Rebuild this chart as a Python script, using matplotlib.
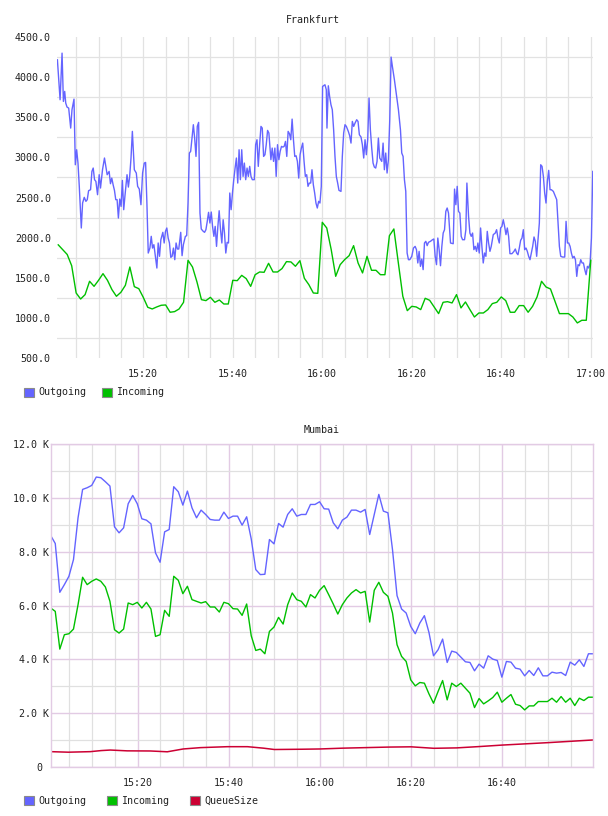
import numpy as np
import pandas as pd
import matplotlib
matplotlib.use("Agg")
import matplotlib.pyplot as plt
import matplotlib.dates as mdates
from matplotlib.ticker import MultipleLocator, FuncFormatter, FixedLocator
from matplotlib.patches import Patch

plt.rcParams['font.family'] = ['DejaVu Sans Mono', 'DejaVu Sans']
plt.rcParams['font.size'] = 7.2

# ---------------- data ----------------
BASE = "2000-01-01 15:00:00"

# Frankfurt, Outgoing: minutes after 15:00 and values
fra_out_t = [
    0.81, 1.41, 1.85, 2.15, 2.44, 2.67, 2.96, 3.33, 3.78, 4.07,
    4.52, 4.81, 5.11, 5.41, 5.70, 6.15, 6.44, 6.81, 7.18, 7.48,
    7.78, 8.22, 8.52, 8.81, 9.11, 9.41, 9.78, 10.15, 10.44, 10.89,
    11.33, 11.63, 11.93, 12.37, 12.67, 12.96, 13.26, 13.56, 13.85, 14.15,
    14.44, 14.74, 15.04, 15.33, 15.63, 15.93, 16.37, 16.67, 16.96, 17.26,
    17.56, 18.00, 18.44, 18.74, 19.11, 19.48, 19.85, 20.22, 20.52, 20.81,
    21.11, 21.48, 21.78, 22.07, 22.37, 22.74, 23.04, 23.33, 23.63, 23.93,
    24.37, 24.67, 24.96, 25.26, 25.56, 25.85, 26.15, 26.44, 26.74, 27.04,
    27.33, 27.63, 27.93, 28.37, 28.67, 28.96, 29.41, 29.70, 30.00, 30.30,
    30.59, 30.89, 31.19, 31.48, 31.78, 32.07, 32.37, 32.67, 32.96, 33.41,
    33.70, 34.00, 34.30, 34.59, 34.89, 35.19, 35.48, 35.78, 36.07, 36.37,
    36.67, 36.96, 37.26, 37.56, 37.85, 38.15, 38.44, 38.74, 39.04, 39.33,
    39.63, 39.93, 40.22, 40.52, 40.81, 41.11, 41.41, 41.70, 42.00, 42.30,
    42.59, 42.89, 43.19, 43.48, 43.78, 44.07, 44.37, 44.81, 45.11, 45.41,
    45.70, 46.00, 46.30, 46.59, 46.89, 47.19, 47.48, 47.78, 48.07, 48.52,
    48.81, 49.11, 49.41, 49.70, 50.00, 50.30, 50.59, 50.89, 51.19, 51.48,
    51.78, 52.07, 52.37, 52.67, 52.96, 53.26, 53.56, 53.85, 54.15, 54.44,
    54.74, 55.04, 55.33, 55.63, 55.93, 56.22, 56.52, 56.81, 57.11, 57.41,
    57.70, 58.00, 58.30, 58.59, 58.89, 59.19, 59.48, 59.78, 60.07, 60.60,
    60.90, 61.05, 61.35, 61.64, 61.94, 62.24, 62.54, 62.84, 63.14, 63.44,
    63.73, 64.18, 64.48, 64.78, 65.08, 65.38, 65.82, 66.12, 66.42, 66.72,
    67.02, 67.32, 67.69, 67.99, 68.29, 68.66, 68.96, 69.26, 69.56, 69.85,
    70.15, 70.45, 70.75, 71.05, 71.35, 71.64, 71.94, 72.24, 72.54, 72.84,
    73.29, 73.59, 73.88, 74.18, 74.48, 74.78, 75.08, 75.38, 75.67, 76.12,
    76.57, 77.02, 77.47, 77.76, 78.06, 78.36, 78.66, 78.96, 79.26, 79.56,
    80.00, 80.38, 80.75, 81.05, 81.35, 81.64, 81.94, 82.24, 82.54, 82.84,
    83.14, 83.44, 83.73, 84.18, 84.63, 84.93, 85.23, 85.53, 85.82, 86.12,
    86.42, 86.72, 87.02, 87.32, 87.61, 87.91, 88.21, 88.66, 89.26, 89.56,
    89.85, 90.15, 90.45, 90.75, 91.05, 91.35, 91.79, 92.09, 92.32, 92.69,
    92.99, 93.29, 93.59, 93.88, 94.18, 94.48, 94.78, 95.08, 95.38, 95.67,
    95.97, 96.27, 96.57, 96.87, 97.17, 97.47, 97.76, 98.21, 98.66, 98.96,
    99.26, 99.56, 99.85, 100.15, 100.45, 100.75, 101.05, 101.35, 101.64, 101.94,
    102.39, 102.84, 103.14, 103.44, 103.73, 104.03, 104.33, 104.63, 104.93, 105.23,
    105.53, 105.82, 106.12, 106.42, 106.72, 107.02, 107.32, 107.61, 107.91, 108.21,
    108.51, 108.81, 109.11, 109.41, 109.70, 110.00, 110.30, 110.60, 110.90, 111.20,
    111.64, 112.09, 112.39, 112.69, 112.99, 113.29, 113.73, 114.18, 114.48, 114.78,
    115.08, 115.38, 115.67, 115.97, 116.27, 116.57, 116.87, 117.16, 117.46, 117.76,
    118.06, 118.36, 118.66, 118.96, 119.25, 119.55, 119.85, 120.15, 120.45,
]
fra_out_v = [
    4216, 3718, 4299, 3697, 3822, 3677, 3627, 3614, 3365, 3594,
    3726, 2908, 3095, 2929, 2639, 2120, 2431, 2502, 2452, 2473,
    2585, 2597, 2825, 2867, 2722, 2701, 2535, 2784, 2618, 2846,
    2992, 2888, 2784, 2825, 2672, 2742, 2659, 2589, 2473, 2473,
    2244, 2481, 2389, 2713, 2348, 2535, 2784, 2630, 2763, 2992,
    3324, 2846, 2805, 2639, 2605, 2410, 2805, 2929, 2937, 2431,
    1808, 1870, 2016, 1870, 1912, 1746, 1621, 1933, 1767, 1974,
    2066, 1933, 2078, 2120, 1995, 1933, 1754, 1767, 1870, 1725,
    1933, 1858, 1858, 2066, 1775, 1912, 2016, 2024, 2431, 3054,
    3075, 3241, 3407, 3241, 3012, 3386, 3436, 2306, 2107, 2078,
    2066, 2099, 2203, 2315, 2182, 2319, 2140, 2016, 2140, 1891,
    2140, 2335, 2099, 1933, 2223, 2057, 1808, 1941, 1933, 2556,
    2348, 2556, 2722, 2867, 2992, 2680, 3095, 2722, 3095, 2763,
    2929, 2722, 2867, 2763, 2888, 2763, 2722, 2722, 3158, 3220,
    2888, 3158, 3386, 3365, 3012, 3033, 3158, 3336, 3303, 2971,
    3116, 2950, 3116, 2763, 3158, 2971, 3075, 3137, 3128, 3137,
    3199, 3012, 3324, 3295, 3220, 3477, 3220, 3012, 3020, 2950,
    2742, 3033, 3116, 3178, 2950, 2763, 2784, 2639, 2680, 2680,
    2846, 2659, 2556, 2431, 2369, 2452, 2431, 2639, 3884, 3905,
    3843, 3365, 3892, 3760, 3656, 3594, 3344, 3012, 2763, 2680,
    2589, 2576, 3012, 3303, 3407, 3386, 3324, 3270, 3178, 3448,
    3386, 3427, 3469, 3448, 3282, 3253, 3158, 2992, 3220, 3033,
    3220, 3739, 3344, 3116, 2929, 2879, 2867, 2950, 3241, 2992,
    2950, 3178, 2846, 3054, 2805, 2971, 3469, 4250, 4133, 3967,
    3780, 3594, 3344, 3054, 3012, 2722, 2576, 1808, 1725, 1725,
    1767, 1870, 1891, 1850, 1684, 1829, 1642, 1733, 1601, 1933,
    1954, 1900, 1941, 1954, 1974, 1983, 1767, 1663, 1995, 1850,
    1650, 1891, 2057, 2099, 2327, 2369, 2306, 1933, 1924, 2605,
    2410, 2639, 2327, 2306, 2016, 1974, 1974, 2099, 2680, 2265,
    2057, 2016, 2057, 1850, 1891, 1829, 1933, 1808, 2120, 1891,
    1684, 1808, 1767, 2078, 1933, 1829, 1891, 2037, 2057, 2099,
    1995, 1933, 2120, 2140, 2223, 2140, 2037, 2120, 2016, 1800,
    1800, 1829, 1858, 1808, 1787, 1870, 1966, 1995, 2099, 1850,
    1870, 1829, 1767, 1725, 1808, 1891, 2008, 1954, 1767, 1974,
    2182, 2908, 2888, 2763, 2556, 2431, 2701, 2838, 2597, 2597,
    2576, 2514, 2473, 2182, 1891, 1767, 1758, 1758, 2203, 1933,
    1933, 1891, 1808, 1746, 1767, 1725, 1517, 1663, 1650, 1725,
    1684, 1684, 1601, 1538, 1642, 1621, 1684, 1995, 2825,
]

# Frankfurt, Incoming: one sample per minute starting 15:01
fra_in_start = 1.0
fra_in_v = [
    1910, 1850, 1790, 1650, 1310, 1235, 1290, 1456, 1393, 1468,
    1551, 1468, 1352, 1269, 1319, 1406, 1634, 1389, 1364, 1256,
    1132, 1111, 1136, 1157, 1161, 1070, 1078, 1111, 1194, 1717,
    1634, 1447, 1227, 1215, 1256, 1194, 1223, 1173, 1173, 1468,
    1464, 1530, 1489, 1393, 1538, 1572, 1568, 1680, 1572, 1572,
    1614, 1701, 1697, 1643, 1713, 1493, 1414, 1310, 1306, 2191,
    2120, 1850, 1518, 1663, 1726, 1775, 1900, 1684, 1560, 1767,
    1593, 1593, 1538, 1538, 2024, 2108, 1684, 1269, 1090, 1144,
    1136, 1103, 1244, 1219, 1136, 1053, 1194, 1202, 1186, 1290,
    1124, 1198, 1103, 1011, 1061, 1061, 1103, 1178, 1194, 1261,
    1215, 1070, 1070, 1153, 1153, 1070, 1144, 1261, 1456, 1385,
    1360, 1207, 1053, 1053, 1053, 1011, 937, 970, 970, 1717,
]

# Mumbai: one sample per minute starting 15:00:55
mum_start = 0.92
mum_out_v = [
    8605, 8307, 6491, 6777, 7088, 7710, 9264, 10321, 10383, 10470,
    10781, 10756, 10607, 10445, 8928, 8705, 8891, 9786, 10097, 9786,
    9227, 9177, 9040, 7958, 7610, 8742, 8829, 10421, 10234, 9737,
    10259, 9637, 9264, 9550, 9388, 9202, 9177, 9177, 9475, 9239,
    9326, 9326, 8991, 9301, 8481, 7337, 7150, 7163, 8456, 8294,
    9053, 8916, 9388, 9600, 9326, 9388, 9388, 9761, 9761, 9861,
    9600, 9587, 9078, 8854, 9177, 9289, 9550, 9550, 9475, 9575,
    8642, 9388, 10135, 9513, 9451, 8083, 6367, 5869, 5720, 5223,
    4949, 5347, 5621, 4999, 4128, 4352, 4750, 3880, 4302, 4253,
    4079, 3905, 3880, 3569, 3818, 3668, 4128, 4004, 3954, 3333,
    3917, 3892, 3668, 3631, 3382, 3581, 3395, 3681, 3382, 3382,
    3519, 3482, 3507, 3395, 3892, 3780, 3979, 3731, 4203, 4203,
]
mum_in_v = [
    5907, 5782, 4377, 4912, 4949, 5123, 6031, 7051, 6777, 6901,
    6988, 6901, 6690, 6155, 5098, 4974, 5123, 6093, 6031, 6118,
    5907, 6118, 5869, 4850, 4912, 5820, 5596, 7088, 6939, 6441,
    6715, 6218, 6155, 6093, 6143, 5944, 5944, 5757, 6118, 6068,
    5882, 5869, 5633, 6056, 4875, 4327, 4377, 4203, 5036, 5198,
    5558, 5310, 6031, 6466, 6218, 6155, 5944, 6404, 6280, 6566,
    6740, 6404, 6056, 5683, 6031, 6280, 6466, 6591, 6466, 6528,
    5384, 6566, 6864, 6491, 6342, 5720, 4539, 4104, 3917, 3233,
    3009, 3134, 3109, 2711, 2363, 2798, 3208, 2487, 3109, 2984,
    3109, 2922, 2736, 2201, 2537, 2338, 2450, 2574, 2773, 2400,
    2549, 2686, 2325, 2276, 2114, 2263, 2263, 2425, 2425, 2425,
    2549, 2400, 2611, 2400, 2549, 2276, 2549, 2462, 2587, 2587,
]
mum_q_t = [0.92, 4.8, 9.6, 12.0, 14.0, 17.7, 22.8, 26.5, 30.0, 33.8,
           39.7, 44.1, 47.6, 50.0, 56.0, 60.0, 65.0, 70.0, 75.0, 80.0,
           85.0, 90.0, 95.0, 100.0, 105.0, 110.0, 115.0, 119.92]
mum_q_v = [560, 540, 560, 600, 620, 590, 585, 555, 660, 710,
           745, 745, 690, 640, 650, 660, 690, 710, 730, 740,
           685, 700, 750, 805, 850, 895, 945, 995]

series_names = ["Outgoing", "Incoming", "QueueSize"]
series_colors = ["#6464ff", "#00c000", "#cc0033"]

# ---------------- helpers ----------------
base = pd.Timestamp(BASE)


def to_dates(minutes):
    return (base + pd.to_timedelta(np.asarray(minutes, dtype=float), unit="m")).to_numpy()


def per_minute(start, n):
    return to_dates(start + np.arange(n))


W, H = 608, 816
fig = plt.figure(figsize=(W / 100, H / 100), dpi=100)
TXT = "#222222"

# ---------------- Frankfurt ----------------
ax1 = fig.add_axes([57 / W, 1 - 358 / H, (593 - 57) / W, (358 - 37) / H])
ax1.plot(to_dates(fra_out_t), fra_out_v, color=series_colors[0], lw=1.0)
ax1.plot(per_minute(fra_in_start, len(fra_in_v)), fra_in_v, color=series_colors[1], lw=1.0)
ax1.set_xlim(to_dates([0.72])[0], to_dates([120.5])[0])
ax1.set_ylim(500, 4500)
ax1.yaxis.set_major_locator(MultipleLocator(500))
ax1.yaxis.set_minor_locator(FixedLocator(np.arange(750, 4500, 500)))
ax1.yaxis.set_major_formatter(FuncFormatter(lambda v, p: f"{v:.1f}"))
ax1.xaxis.set_major_locator(mdates.MinuteLocator(byminute=[0, 20, 40]))
ax1.xaxis.set_minor_locator(mdates.MinuteLocator(byminute=range(0, 60, 5)))
ax1.xaxis.set_major_formatter(mdates.DateFormatter("%H:%M"))
for s in ax1.spines.values():
    s.set_visible(False)
ax1.set_axisbelow(True)
ax1.grid(True, which="minor", axis="both", color="#e2e2e2", lw=0.9)
ax1.grid(True, which="major", axis="x", color="#e2e2e2", lw=0.9)
ax1.tick_params(which="both", length=0, colors=TXT)
ax1.tick_params(axis="y", pad=4.5)
ax1.tick_params(axis="x", pad=8)
fig.text(313 / W, 1 - 20 / H, "Frankfurt", ha="center", va="center", color=TXT)

# ---------------- Mumbai ----------------
ax2 = fig.add_axes([50.7 / W, 1 - 766.7 / H, (593 - 50.7) / W, (766.7 - 444.3) / H])
mum_t = per_minute(mum_start, len(mum_out_v))
ax2.plot(mum_t, mum_out_v, color=series_colors[0], lw=1.0)
ax2.plot(mum_t, mum_in_v, color=series_colors[1], lw=1.0)
ax2.plot(to_dates(mum_q_t), mum_q_v, color=series_colors[2], lw=1.1)
ax2.set_xlim(mum_t[0], mum_t[-1])
ax2.set_ylim(0, 12000)
ax2.yaxis.set_major_locator(MultipleLocator(2000))
ax2.yaxis.set_minor_locator(MultipleLocator(1000))
ax2.yaxis.set_major_formatter(FuncFormatter(lambda v, p: "0 " if v == 0 else f"{v / 1000:.1f} K"))
ax2.xaxis.set_major_locator(mdates.MinuteLocator(byminute=[0, 20, 40]))
ax2.xaxis.set_minor_locator(mdates.MinuteLocator(byminute=range(0, 60, 5)))
ax2.xaxis.set_major_formatter(mdates.DateFormatter("%H:%M"))
PURPLE = "#e2cbe4"
for s in ax2.spines.values():
    s.set_color(PURPLE)
    s.set_linewidth(1.0)
ax2.set_axisbelow(True)
ax2.grid(True, which="minor", axis="both", color="#e0e0e0", lw=0.9)
ax2.grid(True, which="major", axis="both", color=PURPLE, lw=1.0)
ax2.tick_params(which="both", length=0, colors=TXT)
ax2.tick_params(axis="y", pad=1)
ax2.tick_params(axis="x", pad=8)
fig.text(322 / W, 1 - 430 / H, "Mumbai", ha="center", va="center", color=TXT)

# ---------------- legends ----------------
def make_handles(n):
    return [Patch(facecolor=series_colors[i], edgecolor="#8a8a8a", lw=0.8, label=series_names[i])
            for i in range(n)]


leg_kw = dict(loc="center left", frameon=False, borderpad=0, borderaxespad=0,
              handlelength=1.0, handleheight=1.0, handletextpad=0.45,
              labelcolor=TXT, fontsize=7.2)
fig.legend(handles=make_handles(2), ncol=2, columnspacing=1.5,
           bbox_to_anchor=(24 / W, 1 - 392.5 / H), **leg_kw)
fig.legend(handles=make_handles(3), ncol=3, columnspacing=2.05,
           bbox_to_anchor=(24 / W, 1 - 800.5 / H), **leg_kw)

fig.savefig("out.png", dpi=100)
